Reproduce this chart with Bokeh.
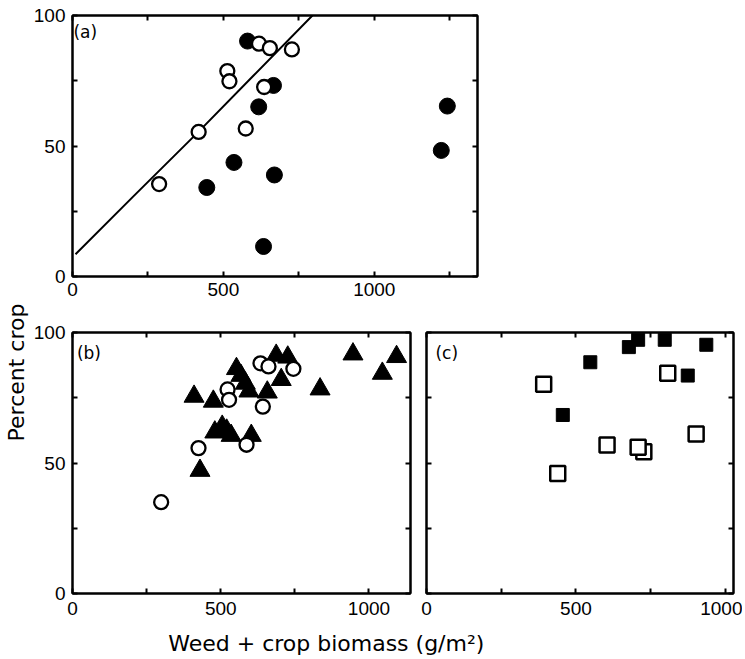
import math
from bokeh.plotting import figure
from bokeh.models import Range1d, FixedTicker, LinearAxis, Label
from bokeh.layouts import row, column
from bokeh.embed import file_html
from bokeh.resources import INLINE

# ---------------- data ----------------
# panel (a)
a_open_x = [287, 418, 513, 520, 574, 618, 654, 635, 727]
a_open_y = [35.4, 55.4, 78.7, 74.8, 56.7, 89.2, 87.5, 72.6, 87.0]
a_fill_x = [580, 445, 535, 617, 666, 669, 633, 1242, 1222]
a_fill_y = [90.2, 34.1, 43.7, 65.0, 73.2, 38.9, 11.5, 65.3, 48.3]
fit_x = [10, 200, 418, 600, 795]
fit_y = [8.5, 30.5, 55.5, 77.0, 100.0]

# panel (b)
b_open_x = [299, 425, 523, 528, 587, 634, 661, 642, 745]
b_open_y = [35.0, 55.7, 78.2, 74.2, 57.0, 88.2, 87.0, 71.6, 86.1]
b_tri_x = [410, 475, 430, 480, 505, 520, 535, 553, 568, 583, 595, 603,
           657, 687, 726, 704, 835, 946, 1045, 1093]
b_tri_y = [75.5, 73.6, 47.1, 61.8, 64.0, 62.5, 60.5, 86.1, 83.5, 80.5, 77.5, 60.5,
           77.1, 91.2, 90.5, 81.9, 78.3, 91.7, 84.3, 90.7]

# panel (c)
c_fill_x = [456, 548, 677, 708, 797, 874, 936]
c_fill_y = [68.4, 88.6, 94.4, 97.2, 97.2, 83.5, 95.3]
c_open_x = [392, 439, 604, 727, 708, 807, 902]
c_open_y = [80.2, 46.0, 56.9, 54.3, 56.0, 84.4, 61.1]

# axis ticks
y_major = [0, 50, 100]
y_minor = [25, 75]
xa_major = [0, 500, 1000]
xa_minor = [250, 750, 1250]
xb_major = [0, 500, 1000]
xb_minor = [250, 750]

TICK_FONT = "Liberation Sans"
LABEL_FONT = "DejaVu Sans"


def style_axis(ax, major, minor, labels, standoff):
    ax.ticker = FixedTicker(ticks=major, minor_ticks=minor)
    ax.axis_line_width = 2
    ax.axis_line_color = "black"
    ax.major_tick_in = 5
    ax.major_tick_out = 0
    ax.minor_tick_in = 5
    ax.minor_tick_out = 0
    ax.major_tick_line_width = 2
    ax.minor_tick_line_width = 2
    ax.major_tick_line_color = "black"
    ax.minor_tick_line_color = "black"
    if labels:
        ax.major_label_text_font = TICK_FONT
        ax.major_label_text_font_size = "19px"
        ax.major_label_text_color = "black"
        ax.major_label_standoff = standoff
    else:
        ax.major_label_overrides = {t: "" for t in major}
        ax.major_label_text_font_size = "8px"
        ax.major_label_standoff = 0


def panel(w, h, xmax, bl, br, bt, bb, xmajor, xminor, ylabels, xstand):
    p = figure(width=w, height=h, x_range=Range1d(0, xmax), y_range=Range1d(0, 100),
               min_border_left=bl, min_border_right=br, min_border_top=bt,
               min_border_bottom=bb, x_axis_location=None, y_axis_location=None,
               title=None, output_backend="svg", toolbar_location=None)
    p.grid.grid_line_color = None
    p.outline_line_color = "black"
    p.outline_line_width = 2
    p.outline_line_alpha = 1
    p.background_fill_color = "white"
    p.border_fill_color = "white"
    for loc, lab in (("below", True), ("above", False)):
        ax = LinearAxis()
        style_axis(ax, xmajor, xminor, lab, xstand)
        p.add_layout(ax, loc)
    for loc, lab in (("left", ylabels), ("right", False)):
        ax = LinearAxis()
        style_axis(ax, y_major, y_minor, lab, 7)
        p.add_layout(ax, loc)
    return p


def tag(p, x, y, text):
    p.add_layout(Label(x=x, y=y, text=text, text_font=LABEL_FONT, text_font_size="17px",
                       text_color="black", text_align="left", text_baseline="middle"))


# ---------------- panel (a) ----------------
A = panel(456, 312, 1342, 40, 9, 15, 36, xa_major, xa_minor, True, 6)
A.line(fit_x, fit_y, line_color="black", line_width=2)
A.scatter(a_fill_x, a_fill_y, marker="circle", size=16, fill_color="black", line_color="black")
A.scatter(a_open_x, a_open_y, marker="circle", size=14, fill_color="white",
          line_color="black", line_width=2.3)
tag(A, 3, 93.5, "(a)")

# ---------------- panel (b) ----------------
B = panel(388, 311, 1140, 40, 8, 20, 30, xb_major, xb_minor, True, 8)
B.scatter(b_tri_x, b_tri_y, marker="triangle", size=20, fill_color="black", line_color="black")
B.scatter(b_open_x, b_open_y, marker="circle", size=14, fill_color="white",
          line_color="black", line_width=2.3)
tag(B, 15, 92.3, "(b)")

# ---------------- panel (c) ----------------
C = panel(324, 311, 1027, 8, 9, 20, 30, xb_major, xb_minor, False, 8)
C.scatter(c_fill_x, c_fill_y, marker="square", size=13, fill_color="black", line_color="black")
C.scatter(c_open_x, c_open_y, marker="square", size=15, fill_color="white",
          line_color="black", line_width=2.5)
tag(C, 30, 92.3, "(c)")

# ---------------- shared axis titles ----------------
LH = 657
L = figure(width=30, height=LH, x_range=Range1d(0, 30), y_range=Range1d(0, LH),
           min_border=0, x_axis_location=None, y_axis_location=None, title=None,
           output_backend="svg", toolbar_location=None)
L.grid.grid_line_color = None
L.outline_line_color = None
L.add_layout(Label(x=16, y=LH - 372, text="Percent crop", angle=math.pi / 2,
                   text_font=LABEL_FONT, text_font_size="22px", text_color="black",
                   text_align="center", text_baseline="middle"))

# bottom strip: borders match the panels above it so its frame starts at x=70
SW, SH = 712, 34
S = figure(width=SW, height=SH, x_range=Range1d(0, SW - 49), y_range=Range1d(0, SH),
           min_border_left=40, min_border_right=9, min_border_top=0, min_border_bottom=0,
           x_axis_location=None, y_axis_location=None, title=None,
           output_backend="svg", toolbar_location=None)
S.grid.grid_line_color = None
S.outline_line_color = None
S.add_layout(Label(x=96, y=14, text="Weed + crop biomass (g/m²)",
                   text_font=LABEL_FONT, text_font_size="22px", text_color="black",
                   text_align="left", text_baseline="alphabetic"))

layout = row(L, column(A, row(B, C), S))

open("out.html", "w").write(file_html(layout, INLINE))
